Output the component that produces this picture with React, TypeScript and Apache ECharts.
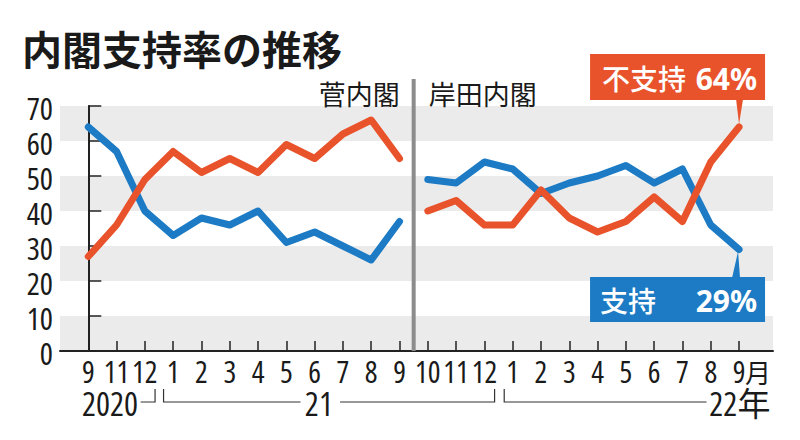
import React, { useEffect, useRef } from 'react';
import * as echarts from 'echarts';

const months = ['9', '11', '12', '1', '2', '3', '4', '5', '6', '7', '8', '9', '10', '11', '12', '1', '2', '3', '4', '5', '6', '7', '8', '9'];
const lastMonthSuffix = '月';
const yTicks = [0, 10, 20, 30, 40, 50, 60, 70];
const yearLabels = ['2020', '21', '22年'];
const cabinetLabels = ['菅内閣', '岸田内閣'];
const titleText = '内閣支持率の推移';
const calloutLabels = ['不支持', '支持'];

const sugaApproval = [64, 57, 40, 33, 38, 36, 40, 31, 34, 30, 26, 37];
const sugaDisapproval = [27, 36, 49, 57, 51, 55, 51, 59, 55, 62, 66, 55];
const kishidaApproval = [49, 48, 54, 52, 45, 48, 50, 53, 48, 52, 36, 29];
const kishidaDisapproval = [40, 43, 36, 36, 46, 38, 34, 37, 44, 37, 54, 64];

const ORANGE = '#e8532c';
const BLUE = '#1c7bc4';
const NUM_FAMILY = '"Open Sans", "Noto Sans CJK JP", sans-serif';
const CJK_FONT = '"Noto Sans CJK JP", sans-serif';
const TEXT = '#1a1a1a';

export default function App() {
  const ref = useRef<HTMLDivElement>(null);
  useEffect(() => {
    const chart = echarts.init(ref.current!, null, { renderer: 'svg' });
    const n1 = sugaApproval.length;
    const toPairs = (arr: number[], off: number) => arr.map((v, i) => [i + off, v]);
    const idx = months.map((_, i) => i);
    const lastIdx = months.length - 1;

    const lineSeries = (data: number[][], color: string, z: number) => ({
      type: 'line', data, showSymbol: false, symbol: 'none', silent: true, z,
      lineStyle: { color, width: 7, join: 'round', cap: 'round' },
    });

    chart.setOption({
      animation: false,
      backgroundColor: '#ffffff',
      grid: { left: 60, right: 27, top: 106, bottom: 89, containLabel: false },
      xAxis: {
        type: 'value',
        min: -1,
        max: 24.2,
        interval: 1,
        axisLine: { show: true, onZero: false, lineStyle: { color: '#222', width: 2 } },
        axisTick: { show: true, inside: true, length: 10, customValues: idx, lineStyle: { color: '#222', width: 1.5 } },
        splitLine: { show: false },
        axisLabel: { show: false },
      },
      yAxis: {
        type: 'value',
        min: yTicks[0],
        max: yTicks[yTicks.length - 1],
        interval: 10,
        axisLine: { show: true, lineStyle: { color: '#222', width: 2 } },
        axisTick: { show: true, inside: true, length: 13, lineStyle: { color: '#222', width: 1.5 } },
        splitLine: { show: false },
        splitArea: { show: true, areaStyle: { color: ['#ebebeb', '#ffffff'] } },
        axisLabel: { show: false },
      },
      series: [
        lineSeries(toPairs(sugaApproval, 0), BLUE, 3),
        lineSeries(toPairs(kishidaApproval, n1), BLUE, 3),
        lineSeries(toPairs(sugaDisapproval, 0), ORANGE, 4),
        lineSeries(toPairs(kishidaDisapproval, n1), ORANGE, 4),
      ],
    });

    const px = (i: number) => chart.convertToPixel({ xAxisIndex: 0 }, i) as number;
    const py = (v: number) => chart.convertToPixel({ yAxisIndex: 0 }, v) as number;

    const xd = (px(n1 - 1) + px(n1)) / 2;
    const y0 = py(0);
    const xLeft = px(-1);
    const monthY = y0 + 20;
    const yr = 403;
    const lineY = 402;
    const brTop = 389;
    const lastX = px(lastIdx);
    const lastOrange = kishidaDisapproval[kishidaDisapproval.length - 1];
    const lastBlue = kishidaApproval[kishidaApproval.length - 1];
    const boxL = lastX - 149;
    const boxR = lastX + 26;
    const condensed = (size: number) => `normal normal condensed ${size}px ${NUM_FAMILY}`;
    const yearFont = condensed(33);

    const lineStyle = { stroke: '#333', lineWidth: 1.2, fill: 'none' };

    const monthTexts = months.map((m, i) => ({
      type: 'text', x: px(i), y: monthY,
      style: { text: m, font: condensed(30), fill: TEXT, align: 'center', verticalAlign: 'middle' },
    }));
    const yTexts = yTicks.map((v) => ({
      type: 'text', x: xLeft - 7, y: py(v) + 2,
      style: { text: String(v), font: condensed(31), fill: TEXT, align: 'right', verticalAlign: 'middle' },
    }));

    chart.setOption({
      graphic: [
        ...monthTexts,
        ...yTexts,
        { type: 'text', x: 22, y: 48, style: { text: titleText, font: `bold 40px ${CJK_FONT}`, fill: TEXT, verticalAlign: 'middle', align: 'left' } },
        { type: 'line', shape: { x1: xd, y1: 79, x2: xd, y2: y0 }, style: { stroke: '#8c8c8c', lineWidth: 4 }, z: 10 },
        { type: 'text', x: xd - 14, y: 93, style: { text: cabinetLabels[0], font: `27px ${CJK_FONT}`, fill: TEXT, align: 'right', verticalAlign: 'middle' } },
        { type: 'text', x: xd + 15, y: 93, style: { text: cabinetLabels[1], font: `27px ${CJK_FONT}`, fill: TEXT, align: 'left', verticalAlign: 'middle' } },

        // month suffix after the last label
        { type: 'text', x: lastX + 6, y: monthY, style: { text: lastMonthSuffix, font: `26px ${CJK_FONT}`, fill: TEXT, align: 'left', verticalAlign: 'middle' } },

        { type: 'text', x: px(1.76), y: yr, style: { text: yearLabels[0], font: yearFont, fill: TEXT, align: 'right', verticalAlign: 'middle' } },
        { type: 'polyline', shape: { points: [[px(1.85), lineY], [px(2.36), lineY], [px(2.36), brTop]] }, style: lineStyle },
        { type: 'polyline', shape: { points: [[px(2.66), brTop], [px(2.66), lineY], [px(7.5), lineY]] }, style: lineStyle },
        { type: 'text', x: px(8.15), y: yr, style: { text: yearLabels[1], font: yearFont, fill: TEXT, align: 'center', verticalAlign: 'middle' } },
        { type: 'polyline', shape: { points: [[px(8.9), lineY], [px(14.36), lineY], [px(14.36), brTop]] }, style: lineStyle },
        { type: 'polyline', shape: { points: [[px(14.7), brTop], [px(14.7), lineY], [px(21.85), lineY]] }, style: lineStyle },
        { type: 'text', x: px(21.95), y: yr, style: { text: yearLabels[2], font: yearFont, fill: TEXT, align: 'left', verticalAlign: 'middle' } },

        // orange callout
        { type: 'polygon', shape: { points: [[lastX - 3, 99], [lastX + 4, 99], [lastX, py(lastOrange) - 3]] }, style: { fill: ORANGE }, z: 20 },
        { type: 'rect', shape: { x: boxL, y: 54, width: boxR - boxL, height: 46 }, style: { fill: ORANGE }, z: 20 },
        { type: 'text', x: boxL + 12, y: 78, style: { text: calloutLabels[0], font: `500 28px ${CJK_FONT}`, fill: '#ffffff', align: 'left', verticalAlign: 'middle' }, z: 21 },
        { type: 'text', x: boxR - 8, y: 78, style: { text: lastOrange + '%', font: `bold 30px "Noto Sans", sans-serif`, fill: '#ffffff', align: 'right', verticalAlign: 'middle' }, z: 21 },

        // blue callout
        { type: 'polygon', shape: { points: [[lastX - 1, py(lastBlue) + 2], [lastX - 7, 278], [lastX + 1, 278]] }, style: { fill: BLUE }, z: 20 },
        { type: 'rect', shape: { x: boxL, y: 277, width: boxR - boxL, height: 45 }, style: { fill: BLUE }, z: 20 },
        { type: 'text', x: boxL + 10, y: 300, style: { text: calloutLabels[1], font: `500 28px ${CJK_FONT}`, fill: '#ffffff', align: 'left', verticalAlign: 'middle' }, z: 21 },
        { type: 'text', x: boxR - 8, y: 300, style: { text: lastBlue + '%', font: `bold 30px "Noto Sans", sans-serif`, fill: '#ffffff', align: 'right', verticalAlign: 'middle' }, z: 21 },
      ],
    });

    return () => chart.dispose();
  }, []);
  return <div ref={ref} style={{ position: 'fixed', left: 0, top: 0, width: 800, height: 440 }} />;
}
